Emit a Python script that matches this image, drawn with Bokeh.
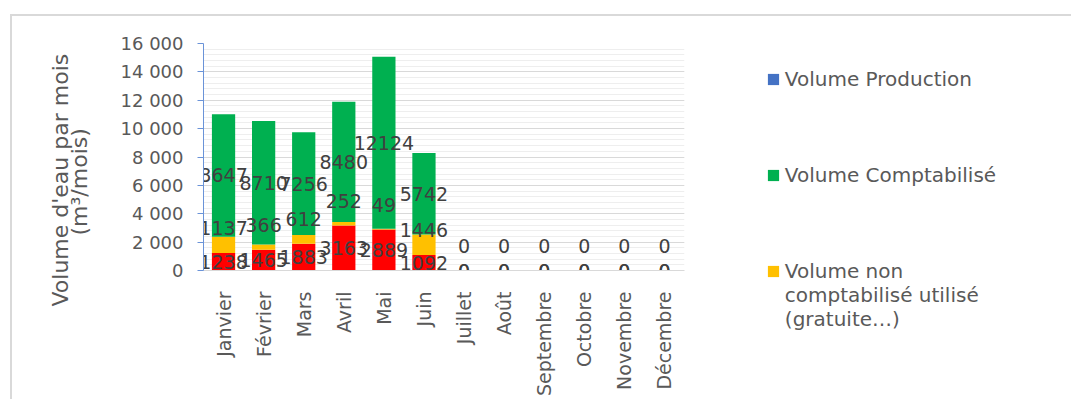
import math
from bokeh.plotting import figure
from bokeh.models import (ColumnDataSource, FactorRange, Range1d, SingleIntervalTicker,
                          Legend, LegendItem, Title)
from bokeh.core.properties import value
from bokeh.embed import file_html
from bokeh.resources import INLINE

# ---------------- data ----------------
months = ["Janvier", "Février", "Mars", "Avril", "Mai", "Juin",
          "Juillet", "Août", "Septembre", "Octobre", "Novembre", "Décembre"]
volume_pertes = [1238, 1465, 1883, 3163, 2889, 1092, 0, 0, 0, 0, 0, 0]          # red
volume_non_compta = [1137, 366, 612, 252, 49, 1446, 0, 0, 0, 0, 0, 0]          # yellow
volume_compta = [8647, 8710, 7256, 8480, 12124, 5742, 0, 0, 0, 0, 0, 0]         # green
volume_production_shown = [0, 0, 0, 0, 0, 0, 0, 0, 0, 0, 0, 0]                  # blue (not visible)
y_ticks = [0, 2000, 4000, 6000, 8000, 10000, 12000, 14000, 16000]
y_tick_labels = ["0", "2 000", "4 000", "6 000", "8 000", "10 000", "12 000", "14 000", "16 000"]

FONT = "DejaVu Sans"
TXT = "#595959"
LBL = "#404040"
RED, YEL, GRN, BLU = "#FF0000", "#FFC000", "#00B050", "#4472C4"

src = ColumnDataSource(dict(
    month=months,
    pertes=volume_pertes,
    noncompta=volume_non_compta,
    compta=volume_compta,
    production=volume_production_shown,
    red_mid=[r / 2 for r in volume_pertes],
    yel_base=volume_pertes,
    grn_mid=[r + y + g / 2 for r, y, g in zip(volume_pertes, volume_non_compta, volume_compta)],
    red_txt=[str(v) for v in volume_pertes],
    yel_txt=[str(v) for v in volume_non_compta],
    grn_txt=[str(v) for v in volume_compta],
))

p = figure(x_range=FactorRange(*months, range_padding=0), y_range=Range1d(0, 16000),
           frame_width=481, frame_height=227, output_backend="svg", toolbar_location=None,
           min_border_left=191, min_border_top=27, min_border_right=300, min_border_bottom=129)
p.outline_line_color = None
p.background_fill_color = "white"
p.border_fill_color = "white"
p.styles = {"border-left": "2px solid #d9d9d9", "border-top": "2px solid #d9d9d9",
            "margin-left": "10px", "margin-top": "14px"}

rs = p.vbar_stack(["pertes", "noncompta", "compta"], x="month", width=0.58,
                  color=[RED, YEL, GRN], line_color=None, source=src)
blue = p.vbar(x="month", top="production", width=0.58, color=BLU, line_color=None, source=src)
empty = p.vbar(x=[], top=[], width=0.58, fill_alpha=0, line_alpha=0)

common = dict(text_font=value(FONT), text_font_size="19px", text_color=LBL,
              text_align="center", text_baseline="middle", source=src)
p.text(x="month", y="red_mid", text="red_txt", **common)
p.text(x="month", y="yel_base", text="yel_txt", y_offset=-25, **common)
p.text(x="month", y="grn_mid", text="grn_txt", **common)

# y axis
p.yaxis.ticker = SingleIntervalTicker(interval=2000, num_minor_ticks=5)
p.yaxis.major_label_overrides = dict(zip(y_ticks, y_tick_labels))
p.yaxis.axis_line_color = "#6a93d8"
p.yaxis.major_tick_line_color = "#6a93d8"
p.yaxis.major_tick_out = 6
p.yaxis.major_tick_in = 0
p.yaxis.minor_tick_line_color = None
p.yaxis.major_label_standoff = 14
p.yaxis.major_label_text_font = FONT
p.yaxis.major_label_text_font_size = "18px"
p.yaxis.major_label_text_color = TXT

p.ygrid.grid_line_color = "#d9d9d9"
p.ygrid.minor_grid_line_color = "#eeeeee"
p.xgrid.grid_line_color = None

# x axis
p.xaxis.axis_line_color = "#d9d9d9"
p.xaxis.major_tick_line_color = None
p.xaxis.minor_tick_line_color = None
p.xaxis.major_label_orientation = math.pi / 2
p.xaxis.major_label_standoff = 15
p.xaxis.major_label_text_font = FONT
p.xaxis.major_label_text_font_size = "19px"
p.xaxis.major_label_text_color = TXT

# y axis title (two lines) + spacer
spacer_l = Title(text=" ", text_font_size="1px", standoff=18)
t2 = Title(text="(m³/mois)", align="left", text_font=FONT, text_font_size="22px",
           text_font_style="normal", text_color=TXT, offset=35, standoff=10)
t1 = Title(text="Volume d'eau par mois", align="left", text_font=FONT, text_font_size="22px",
           text_font_style="normal", text_color=TXT, offset=-36, standoff=-27)
p.add_layout(spacer_l, "left")
p.add_layout(t2, "left")
p.add_layout(t1, "left")

# legend on the right
spacer_r = Title(text=" ", text_font_size="1px", standoff=80)
p.add_layout(spacer_r, "right")
legend = Legend(items=[
    LegendItem(label="Volume Production", renderers=[blue]),
    LegendItem(label=" ", renderers=[empty]),
    LegendItem(label=" ", renderers=[empty]),
    LegendItem(label=" ", renderers=[empty]),
    LegendItem(label="Volume Comptabilisé", renderers=[rs[2]]),
    LegendItem(label=" ", renderers=[empty]),
    LegendItem(label=" ", renderers=[empty]),
    LegendItem(label=" ", renderers=[empty]),
    LegendItem(label="Volume non", renderers=[rs[1]]),
    LegendItem(label="comptabilisé utilisé", renderers=[empty]),
    LegendItem(label="(gratuite…)", renderers=[empty]),
], location=(-245, -61), orientation="vertical", glyph_width=14, glyph_height=14,
    label_standoff=5, spacing=0, padding=0, margin=0, border_line_color=None,
    background_fill_alpha=0, label_text_font=FONT, label_text_font_size="20px",
    label_text_color=TXT, label_height=24,
    title=" ", title_text_font_size="1px", title_standoff=44)
p.add_layout(legend, "right")

open("out.html", "w").write(file_html(p, INLINE))
